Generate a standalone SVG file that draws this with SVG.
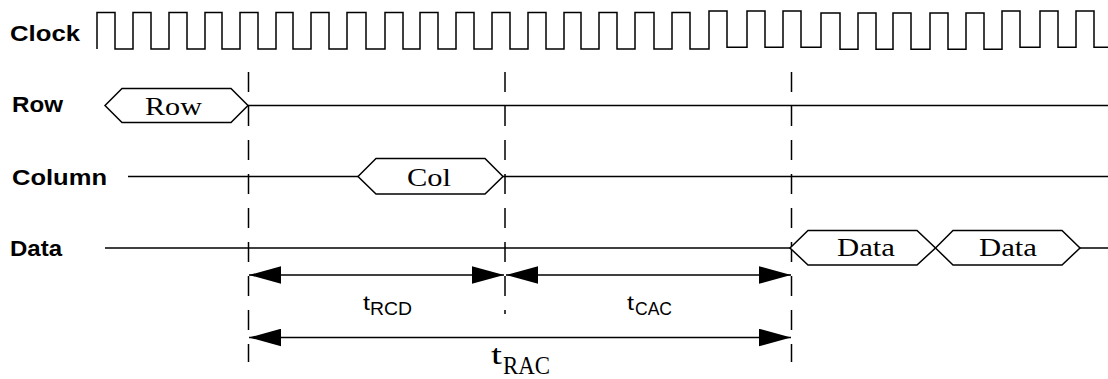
<svg xmlns="http://www.w3.org/2000/svg" width="1108" height="379" viewBox="0 0 1108 379">
<style>
.lbl{font-family:"Liberation Sans",Arial,sans-serif;font-weight:bold;font-size:22px;fill:#000}
.bus{font-family:"Liberation Serif","Times New Roman",serif;font-size:26px;fill:#000}
.sans{font-family:"Liberation Sans",Arial,sans-serif;fill:#000}
.serif{font-family:"Liberation Serif","Times New Roman",serif;fill:#000}
.sig{fill:none;stroke:#000;stroke-width:1.5}
.shape{fill:#fff;stroke:#000;stroke-width:1.5}
.dash{fill:none;stroke:#000;stroke-width:1.5;stroke-dasharray:20 14}
.dim{fill:none;stroke:#000;stroke-width:1.5;marker-start:url(#ah);marker-end:url(#ah)}
</style>
<defs>
<marker id="ah" markerUnits="userSpaceOnUse" markerWidth="32" markerHeight="18" viewBox="0 0 31 17" refX="31" refY="8.5" orient="auto-start-reverse">
<path d="M0,0 L31,8.5 L0,17 z" fill="#000"/>
</marker>
</defs>
<g id="labels">
<text class="lbl" x="10" y="41" textLength="70" lengthAdjust="spacingAndGlyphs">Clock</text>
<text class="lbl" x="12" y="112" textLength="51" lengthAdjust="spacingAndGlyphs">Row</text>
<text class="lbl" x="12" y="185" textLength="95" lengthAdjust="spacingAndGlyphs">Column</text>
<text class="lbl" x="10" y="256" textLength="52" lengthAdjust="spacingAndGlyphs">Data</text>
</g>
<g id="clock">
<path class="sig" stroke-width="1.7" d="M97,49 V12.5 H115 V49 H133 V12.5 H151 V49 H169 V12.5 H187 V49 H205 V12.5 H222 V49 H240 V12.5 H258 V49 H276 V12.5 H293 V49 H311 V12.5 H329 V49 H347 V12.5 H366 V49 H385 V12.5 H403 V49 H420 V12.5 H438 V49 H456 V12.5 H474 V49 H492 V12.5 H510 V49 H528 V12.5 H546 V49 H564 V12.5 H581 V49 H599 V12.5 H617 V49 H635 V12.5 H654 V49 H672 V12.5 H690 V49 H709 V11 H727 V47.3 H747 V11 H765 V47.3 H783 V11 H801 V47.3 H821 V13 H840 V49.3 H858 V13 H876 V49.3 H893 V13 H911 V49.3 H930 V13 H948 V49.3 H966 V13 H984 V49.3 H1002 V11 H1020 V47.3 H1040 V11 H1058 V47.3 H1076 V11 H1094 V47.3 H1108"/>
</g>
<g id="connectors">
<line class="dash" x1="248.5" y1="72" x2="248.5" y2="362"/>
<line class="dash" x1="505" y1="72" x2="505" y2="314"/>
<line class="dash" x1="791.5" y1="72" x2="791.5" y2="362"/>
<line class="sig" x1="248" y1="105.5" x2="1108" y2="105.5"/>
<line class="sig" x1="128" y1="176.5" x2="358" y2="176.5"/>
<line class="sig" x1="503" y1="176.5" x2="1108" y2="176.5"/>
<line class="sig" x1="105" y1="248" x2="790" y2="248"/>
<line class="sig" x1="1080" y1="248" x2="1108" y2="248"/>
<line class="dim" x1="249" y1="275" x2="504" y2="275"/>
<line class="dim" x1="506" y1="275" x2="791" y2="275"/>
<line class="dim" x1="249" y1="337.5" x2="791" y2="337.5"/>
</g>
<g id="row-bus">
<polygon class="shape" points="105,105.5 122,88.5 231,88.5 248,105.5 231,122.5 122,122.5"/>
<text class="bus" x="145" y="115" textLength="57" lengthAdjust="spacingAndGlyphs">Row</text>
</g>
<g id="col-bus">
<polygon class="shape" points="358,176.5 376,158.5 485,158.5 503,176.5 485,194 376,194"/>
<text class="bus" x="407" y="186" textLength="44" lengthAdjust="spacingAndGlyphs">Col</text>
</g>
<g id="data-bus-1">
<polygon class="shape" points="790,248 808,230.5 917,230.5 935.5,248 917,265 808,265"/>
<text class="bus" x="837" y="256" textLength="58" lengthAdjust="spacingAndGlyphs">Data</text>
</g>
<g id="data-bus-2">
<polygon class="shape" points="935.5,248 953,230.5 1062,230.5 1080,248 1062,265 953,265"/>
<text class="bus" x="979" y="256" textLength="58" lengthAdjust="spacingAndGlyphs">Data</text>
</g>
<g id="t-rcd">
<text class="sans" font-size="21"><tspan x="363" y="310" textLength="7" lengthAdjust="spacingAndGlyphs">t</tspan><tspan x="370" y="315" font-size="18" textLength="42" lengthAdjust="spacingAndGlyphs">RCD</tspan></text>
</g>
<g id="t-cac">
<text class="sans" font-size="21"><tspan x="627" y="310" textLength="7" lengthAdjust="spacingAndGlyphs">t</tspan><tspan x="635" y="315" font-size="18" textLength="37" lengthAdjust="spacingAndGlyphs">CAC</tspan></text>
</g>
<g id="t-rac">
<text class="serif" font-size="28"><tspan x="491" y="364" textLength="11" lengthAdjust="spacingAndGlyphs">t</tspan><tspan x="503" y="374" font-size="25" textLength="47" lengthAdjust="spacingAndGlyphs">RAC</tspan></text>
</g>
</svg>
